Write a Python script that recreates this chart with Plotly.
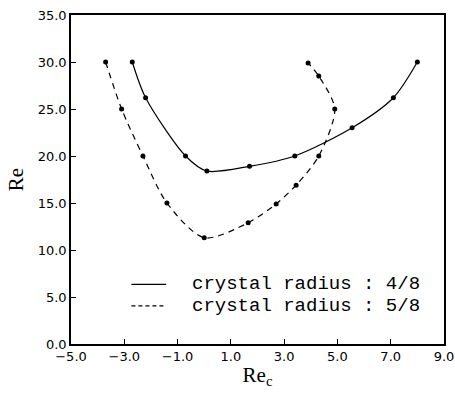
import plotly.graph_objects as go

# crystal radius 4/8 (solid)
x_48 = [-2.7, -2.2, -0.7, 0.1, 1.7, 3.4, 5.55, 7.1, 8.0]
y_48 = [30.0, 26.2, 20.0, 18.4, 18.9, 20.0, 23.0, 26.2, 30.0]

# crystal radius 5/8 (dashed)
x_58 = [-3.7, -3.1, -2.3, -1.4, 0.0, 1.65, 2.7, 3.45, 4.3, 4.9, 4.3, 3.9]
y_58 = [30.0, 25.0, 20.0, 15.0, 11.3, 12.9, 14.9, 16.9, 20.0, 25.0, 28.5, 29.9]

x_ticks = [-5.0, -3.0, -1.0, 1.0, 3.0, 5.0, 7.0, 9.0]
y_ticks = [0.0, 5.0, 10.0, 15.0, 20.0, 25.0, 30.0, 35.0]

labels = ["crystal radius : 4/8", "crystal radius : 5/8"]

fig = go.Figure()
for xs, ys, dash in [(x_48, y_48, "solid"), (x_58, y_58, "6px,5px")]:
    fig.add_trace(go.Scatter(
        x=xs, y=ys, mode="lines+markers", showlegend=False,
        line=dict(color="black", width=1.2, dash=dash, shape="spline", smoothing=0.8),
        marker=dict(color="black", size=5),
    ))

# legend drawn manually (line samples + text)
leg_y = [0.181, 0.116]
leg_dash = ["solid", "4px,3px"]
for ly, dash, lab in zip(leg_y, leg_dash, labels):
    fig.add_shape(type="line", xref="paper", yref="paper",
                  x0=0.162, x1=0.255, y0=ly, y1=ly,
                  line=dict(color="black", width=1.2, dash=dash))
    fig.add_annotation(xref="paper", yref="paper", x=0.32, y=ly,
                       xanchor="left", yanchor="middle", showarrow=False,
                       height=20, valign="middle",
                       text=lab, font=dict(family="Liberation Mono", size=19, color="black"))

axis_common = dict(
    showgrid=False, zeroline=False, showline=True, linecolor="black", linewidth=1.5,
    mirror=True, ticks="inside", ticklen=5, tickcolor="black", tickwidth=1.2,
    tickformat=".1f", ticklabeloverflow="allow", automargin=False,
    tickfont=dict(family="DejaVu Sans", size=13, color="black"),
)

fig.update_layout(
    width=455, height=394,
    margin=dict(l=71, r=11, t=15, b=50),
    paper_bgcolor="white", plot_bgcolor="white",
    xaxis=dict(range=[-5, 9], tickvals=x_ticks,
               title=dict(text="Re<sub>c</sub>", font=dict(family="Liberation Serif", size=21, color="black"), standoff=4),
               **axis_common),
    yaxis=dict(range=[0, 35], tickvals=y_ticks,
               title=dict(text="Re", font=dict(family="Liberation Serif", size=21, color="black"), standoff=8),
               **axis_common),
)

fig.write_html("out.html")
